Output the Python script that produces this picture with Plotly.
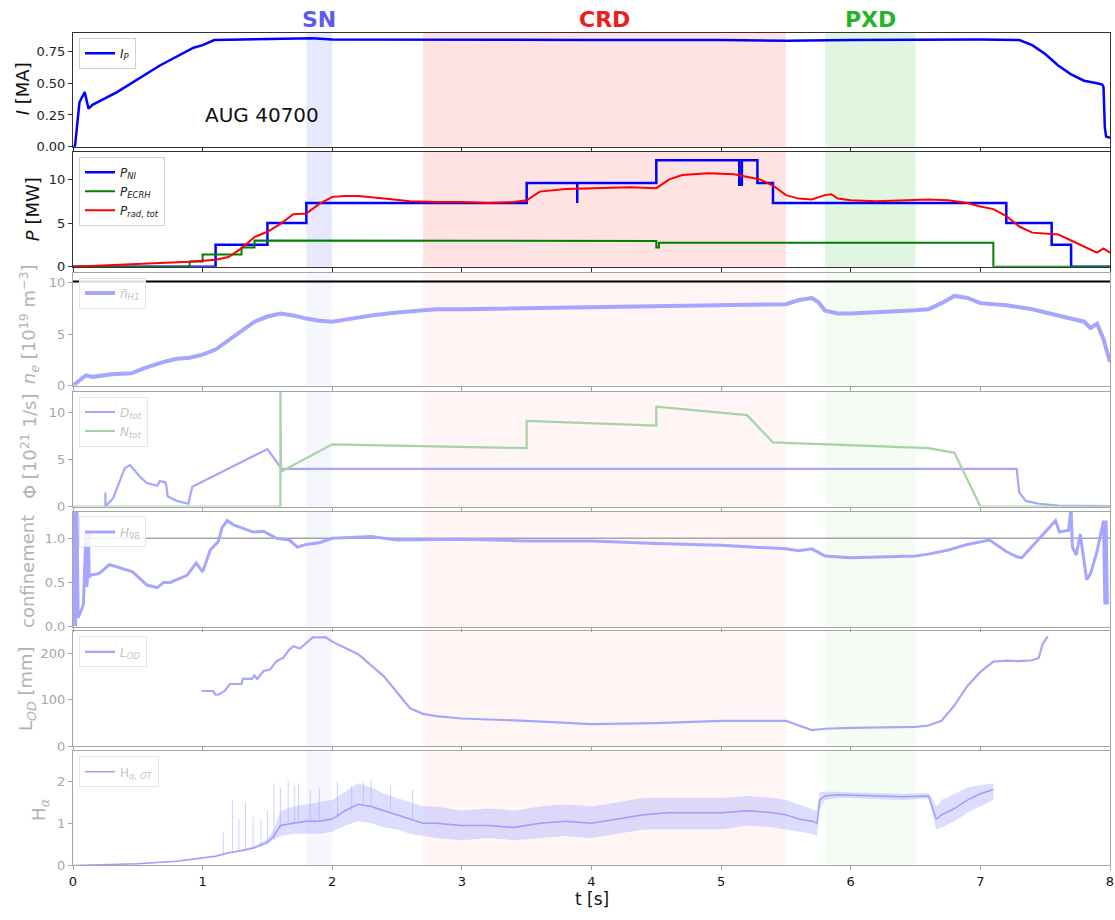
import plotly.graph_objects as go

# ---------------- data (AUG discharge 40700) ----------------
# Phases
PHASE_NAMES = ["SN", "CRD", "PXD"]
PHASE_START = [1.8, 2.7, 5.8]
PHASE_END = [2.0, 5.5, 6.5]

# Plasma current [MA]
t_ip = [0, 0.015, 0.05, 0.09, 0.12, 0.15, 0.34, 0.67, 0.93, 1.0, 1.09, 1.5, 1.8, 1.85, 2.0, 3.0,
        4.0, 5.0, 5.5, 6.0, 7.0, 7.3, 7.4, 7.5, 7.6, 7.7, 7.8, 7.9, 7.94, 7.95, 7.96, 7.97, 8.0]
ip = [0, 0, 0.35, 0.43, 0.30, 0.33, 0.43, 0.64, 0.78, 0.80, 0.84, 0.845, 0.85, 0.855, 0.845, 0.84,
      0.84, 0.84, 0.835, 0.84, 0.845, 0.84, 0.80, 0.73, 0.64, 0.57, 0.52, 0.50, 0.49, 0.47, 0.15, 0.08, 0.07]

# Heating / radiated power [MW]
t_nbi = [0, 1.1, 1.1, 1.5, 1.5, 1.8, 1.8, 3.5, 3.5, 3.89, 3.89, 3.89, 3.89, 4.5, 4.5, 5.14, 5.14,
         5.16, 5.16, 5.28, 5.28, 5.4, 5.4, 7.2, 7.2, 7.55, 7.55, 7.7, 7.7, 8.0]
p_nbi = [0, 0, 2.5, 2.5, 5.0, 5.0, 7.3, 7.3, 9.6, 9.6, 7.3, 7.3, 9.6, 9.6, 12.2, 12.2, 9.4,
         9.4, 12.2, 12.2, 9.6, 9.6, 7.3, 7.3, 5.0, 5.0, 2.5, 2.5, 0, 0]
t_ecrh = [0, 0.9, 0.9, 1.0, 1.0, 1.3, 1.3, 1.4, 1.4, 4.5, 4.5, 4.52, 4.52, 7.1, 7.1, 8.0]
p_ecrh = [0, 0, 0.6, 0.6, 1.4, 1.4, 2.2, 2.2, 3.0, 2.95, 2.2, 2.2, 2.75, 2.75, 0, 0]
t_rad = [0, 0.3, 0.6, 0.9, 1.1, 1.2, 1.3, 1.4, 1.5, 1.6, 1.7, 1.8, 1.9, 2.0, 2.1, 2.2, 2.4, 2.6,
         2.8, 3.0, 3.2, 3.4, 3.5, 3.6, 3.8, 4.0, 4.3, 4.5, 4.6, 4.7, 4.9, 5.1, 5.2, 5.3, 5.4, 5.5,
         5.6, 5.7, 5.8, 5.85, 5.9, 6.0, 6.2, 6.4, 6.6, 6.75, 6.9, 7.0, 7.1, 7.2, 7.3, 7.4, 7.5,
         7.6, 7.7, 7.8, 7.9, 7.95, 8.0]
p_rad = [0, 0.2, 0.35, 0.55, 0.8, 1.1, 2.1, 3.4, 4.0, 4.9, 6.0, 6.1, 7.2, 8.0, 8.1, 8.1, 7.8, 7.5,
         7.4, 7.4, 7.3, 7.4, 7.6, 8.6, 8.9, 9.0, 9.1, 9.0, 10.0, 10.5, 10.7, 10.6, 10.3, 10.0, 9.3, 8.2,
         7.8, 7.7, 8.2, 8.3, 7.8, 7.6, 7.5, 7.6, 7.7, 7.6, 7.3, 6.9, 6.6, 5.8, 4.6, 3.9, 3.8,
         3.7, 3.0, 2.3, 1.6, 2.1, 1.6]

# Line-averaged density [1e19 m^-3]
t_ne = [0, 0.05, 0.1, 0.15, 0.3, 0.45, 0.55, 0.7, 0.8, 0.9, 1.0, 1.1, 1.2, 1.3, 1.4, 1.5, 1.6, 1.7,
        1.8, 1.9, 2.0, 2.1, 2.3, 2.5, 2.8, 3.0, 3.5, 4.0, 4.5, 5.0, 5.5, 5.6, 5.7, 5.75, 5.8, 5.9,
        6.0, 6.5, 6.6, 6.7, 6.8, 6.9, 7.0, 7.2, 7.4, 7.6, 7.8, 7.85, 7.9, 7.95, 8.0]
ne = [0, 0.5, 1.0, 0.85, 1.1, 1.2, 1.7, 2.3, 2.6, 2.7, 3.0, 3.5, 4.4, 5.4, 6.2, 6.7, 7.0, 6.8,
      6.5, 6.3, 6.2, 6.4, 6.8, 7.1, 7.4, 7.4, 7.5, 7.6, 7.7, 7.8, 7.9, 8.3, 8.5, 8.1, 7.3, 7.0,
      7.0, 7.3, 7.4, 8.0, 8.7, 8.5, 8.0, 7.8, 7.4, 6.8, 6.2, 5.6, 6.0, 4.5, 2.3]
NE_REF = 10.1

# Particle fluxes [1e21 1/s]
t_d = [0.25, 0.25, 0.31, 0.4, 0.44, 0.52, 0.57, 0.65, 0.67, 0.71, 0.72, 0.73, 0.8, 0.89, 0.92,
       1.5, 1.61, 1.65, 7.28, 7.3, 7.35, 7.45, 7.6, 8.0]
d_tot = [1.5, 0.0, 0.9, 4.1, 4.4, 3.1, 2.5, 2.2, 2.7, 2.6, 2.2, 1.1, 0.6, 0.3, 2.1,
         6.1, 4.0, 4.0, 4.0, 1.5, 0.6, 0.3, 0.1, 0.05]
t_n = [0, 1.6, 1.6, 1.605, 2.0, 3.5, 3.5, 4.5, 4.5, 5.2, 5.4, 6.6, 6.8, 7.0, 8.0]
n_tot = [0, 0, 12.5, 3.7, 6.6, 6.2, 9.1, 8.6, 10.6, 9.7, 6.8, 6.2, 5.7, 0, 0]

# Confinement factor H98
t_h98 = [0, 0.005, 0.01, 0.02, 0.03, 0.04, 0.05, 0.08, 0.1, 0.105, 0.11, 0.12, 0.125, 0.13, 0.2,
         0.28, 0.33, 0.46, 0.57, 0.65, 0.7, 0.75, 0.88, 0.95, 1.0, 1.06, 1.12, 1.15, 1.19, 1.24,
         1.39, 1.47, 1.57, 1.67, 1.73, 1.8, 1.9, 2.0, 2.3, 2.5, 3.0, 3.5, 4.0, 4.5, 5.0, 5.5, 5.6,
         5.7, 5.8, 6.0, 6.5, 6.6, 6.76, 6.9, 7.07, 7.2, 7.28, 7.32, 7.53, 7.58, 7.61, 7.68, 7.7,
         7.71, 7.74, 7.77, 7.82, 7.85, 7.9, 7.94, 7.95, 7.96, 7.97, 7.98]
h98 = [1.35, 0, 1.35, 0, 1.35, 0.1, 0.13, 0.25, 1.05, 0.45, 0.5, 1.05, 0.55, 0.58, 0.6,
       0.7, 0.68, 0.62, 0.47, 0.44, 0.5, 0.5, 0.58, 0.72, 0.62, 0.87, 0.96, 1.12, 1.2, 1.15,
       1.07, 1.08, 1.0, 0.98, 0.9, 0.93, 0.95, 1.0, 1.02, 0.98, 0.99, 0.97, 0.97, 0.94, 0.92, 0.88, 0.86,
       0.88, 0.8, 0.78, 0.8, 0.82, 0.87, 0.93, 0.98, 0.85, 0.79, 0.78, 1.12, 1.2, 1.07, 1.09, 1.35,
       0.9, 0.81, 1.05, 0.53, 0.6, 0.85, 1.1, 1.2, 0.25, 1.2, 0.25]
H98_REF = 1.0

# Outer divertor leg length [mm]
t_lod = [0.99, 1.08, 1.1, 1.12, 1.17, 1.21, 1.3, 1.31, 1.38, 1.4, 1.42, 1.47, 1.52, 1.57, 1.62,
         1.67, 1.7, 1.75, 1.85, 1.95, 2.0, 2.2, 2.4, 2.5, 2.6, 2.7, 2.8, 3.0, 3.5, 4.0, 4.5, 5.0,
         5.5, 5.6, 5.7, 5.8, 6.0, 6.5, 6.6, 6.7, 6.8, 6.9, 7.0, 7.1, 7.2, 7.3, 7.4, 7.45, 7.48, 7.52]
lod = [119, 119, 111, 111, 119, 134, 134, 145, 145, 152, 145, 162, 165, 183, 190,
       208, 215, 210, 234, 234, 225, 198, 150, 115, 82, 70, 65, 60, 55, 48, 50, 55,
       55, 45, 35, 38, 40, 42, 45, 55, 88, 130, 160, 182, 184, 183, 185, 190, 220, 236]

# H-alpha (outer target): centre and min/max envelope, plus ELM spikes
t_ha = [0, 0.5, 0.8, 1.0, 1.1, 1.2, 1.3, 1.4, 1.5, 1.55, 1.6, 1.7, 1.8, 1.9, 2.0, 2.1, 2.2, 2.3,
        2.4, 2.5, 2.6, 2.7, 2.8, 3.0, 3.2, 3.4, 3.6, 3.8, 4.0, 4.2, 4.4, 4.6, 4.8, 5.0, 5.2, 5.4,
        5.5, 5.6, 5.7, 5.74, 5.76, 5.8, 5.9, 6.0, 6.2, 6.4, 6.6, 6.63, 6.66, 6.7, 6.8, 6.9, 7.0, 7.1]
ha_mid = [0, 0.04, 0.1, 0.17, 0.22, 0.3, 0.35, 0.42, 0.55, 0.7, 0.95, 1.0, 1.05, 1.05, 1.1, 1.3,
          1.45, 1.4, 1.3, 1.2, 1.1, 1.0, 1.0, 0.95, 0.95, 0.9, 1.0, 1.05, 1.0, 1.1, 1.2, 1.25, 1.25,
          1.25, 1.3, 1.25, 1.2, 1.1, 1.05, 1.0, 1.55, 1.65, 1.68, 1.67, 1.65, 1.63, 1.65, 1.4, 1.1,
          1.2, 1.35, 1.55, 1.7, 1.8]
ha_lo = [0, 0.03, 0.09, 0.16, 0.2, 0.28, 0.33, 0.4, 0.5, 0.62, 0.7, 0.75, 0.75, 0.75, 0.8, 0.95,
         1.05, 1.0, 0.9, 0.85, 0.75, 0.7, 0.65, 0.6, 0.65, 0.6, 0.65, 0.7, 0.65, 0.75, 0.85, 0.85,
         0.85, 0.85, 0.95, 0.9, 0.85, 0.8, 0.75, 0.7, 1.3, 1.55, 1.6, 1.6, 1.58, 1.55, 1.58, 1.2,
         0.85, 0.9, 1.05, 1.25, 1.4, 1.55]
ha_hi = [0, 0.05, 0.11, 0.19, 0.24, 0.32, 0.38, 0.46, 0.62, 0.85, 1.3, 1.4, 1.45, 1.5, 1.55, 1.75,
         1.95, 1.85, 1.7, 1.6, 1.5, 1.4, 1.4, 1.3, 1.35, 1.3, 1.4, 1.45, 1.4, 1.5, 1.6, 1.6, 1.6,
         1.6, 1.65, 1.6, 1.55, 1.45, 1.35, 1.3, 1.75, 1.75, 1.75, 1.73, 1.72, 1.7, 1.72, 1.6, 1.4,
         1.55, 1.7, 1.85, 1.9, 1.95]
ha_spike_t = [1.16, 1.23, 1.28, 1.33, 1.39, 1.45, 1.50, 1.55, 1.60, 1.66, 1.71, 1.74, 1.83, 1.90,
              2.04, 2.15, 2.24, 2.30, 2.45, 2.62]
ha_spike_base = [0.22, 0.3, 0.33, 0.35, 0.4, 0.45, 0.5, 0.6, 0.9, 1.0, 1.0, 1.0, 1.05, 1.05,
                 1.1, 1.3, 1.45, 1.4, 1.3, 1.1]
ha_spike_top = [0.78, 1.55, 1.1, 1.5, 1.15, 1.1, 1.3, 1.95, 1.85, 2.0, 1.9, 1.95, 1.8, 1.85,
                2.0, 1.9, 2.0, 2.05, 1.9, 1.8]

X_TICKS = [0, 1, 2, 3, 4, 5, 6, 7, 8]
Y_TICKS = [[0, 0.25, 0.5, 0.75], [0, 5, 10], [0, 5, 10], [0, 5, 10], [0, 0.5, 1.0], [0, 100, 200], [0, 1, 2]]
Y_TICKTEXT = [["0.00", "0.25", "0.50", "0.75"], ["0", "5", "10"], ["0", "5", "10"], ["0", "5", "10"],
              ["0.0", "0.5", "1.0"], ["0", "100", "200"], ["0", "1", "2"]]
Y_MAX = [0.898, 13.18, 10.96, 12.2, 1.303, 246.8, 2.706]
Y_LABELS = ["<i>I</i> [MA]", "<i>P</i> [MW]", "<i>n<sub>e</sub></i> [10<sup>19</sup> m<sup>−3</sup>]",
            "Φ [10<sup>21</sup> 1/s]", "confinement", "L<sub><i>OD</i></sub> [mm]", "H<sub><i>α</i></sub>"]

# ---------------- layout geometry ----------------
W, H = 1115, 920
LEFT, RIGHT = 73, 1110
PW = RIGHT - LEFT
PANEL_PX = [(33, 148), (153, 269), (275, 389), (395, 511), (516, 632), (637, 753), (758, 873)]
YLAB_PX = [(22, 90), (32, 211), (29, 327), (29, 450), (28, 577), (27, 695), (40, 817)]
FONT = "DejaVu Sans"

def px_x(px):
    return (px - LEFT) / PW

def px_y(py):
    return 1 - py / H

def fade(rgb, a=0.65):
    r, g, b = rgb
    return "rgb(%d,%d,%d)" % tuple(round(c * (1 - a) + 255 * a) for c in (r, g, b))

BLUE, GREEN, RED = (0, 0, 255), (0, 128, 0), (255, 0, 0)
FBLUE, FGREEN = fade(BLUE), fade(GREEN)
FADED_GREY = fade((0, 0, 0))

fig = go.Figure()

def ax(k):
    return ("x" if k == 1 else "x%d" % k), ("y" if k == 1 else "y%d" % k)

def leg(k):
    return "legend" if k == 1 else "legend%d" % k

def add_line(k, x, y, name, color, width, show=True):
    xa, ya = ax(k)
    fig.add_trace(go.Scatter(x=x, y=y, mode="lines", name=name, xaxis=xa, yaxis=ya,
                             line=dict(color=color, width=width), legend=leg(k), showlegend=show))

# panel 1
add_line(1, t_ip, ip, "<i>I<sub>P</sub></i>", "rgb(0,0,255)", 2.5)
# panel 2
add_line(2, t_nbi, p_nbi, "<i>P<sub>NI</sub></i>", "rgb(0,0,255)", 2.5)
add_line(2, t_ecrh, p_ecrh, "<i>P<sub>ECRH</sub></i>", "rgb(0,128,0)", 2)
add_line(2, t_rad, p_rad, "<i>P<sub>rad, tot</sub></i>", "rgb(255,0,0)", 2)
# panel 3
add_line(3, t_ne, ne, "<i>n̄<sub>H1</sub></i>", FBLUE, 4)
# panel 4
add_line(4, t_d, d_tot, "<i>D<sub>tot</sub></i>", FBLUE, 2.2)
add_line(4, t_n, n_tot, "<i>N<sub>tot</sub></i>", FGREEN, 2.2)
# panel 5
add_line(5, t_h98, h98, "<i>H</i><sub>98</sub>", FBLUE, 3)
# panel 6
add_line(6, t_lod, lod, "<i>L<sub>OD</sub></i>", FBLUE, 2.2)
# panel 7: envelope band, spikes, centre line
xa7, ya7 = ax(7)
fig.add_trace(go.Scatter(x=t_ha, y=ha_lo, mode="lines", line=dict(width=0, color=FBLUE),
                         xaxis=xa7, yaxis=ya7, showlegend=False, hoverinfo="skip"))
fig.add_trace(go.Scatter(x=t_ha, y=ha_hi, mode="lines", line=dict(width=0, color=FBLUE),
                         fill="tonexty", fillcolor="rgba(170,170,255,0.4)",
                         xaxis=xa7, yaxis=ya7, showlegend=False, hoverinfo="skip"))
sx, sy = [], []
for t, b, top in zip(ha_spike_t, ha_spike_base, ha_spike_top):
    sx += [t, t, None]
    sy += [b, top, None]
fig.add_trace(go.Scatter(x=sx, y=sy, mode="lines", line=dict(width=0.8, color="rgba(170,170,255,0.7)"),
                         xaxis=xa7, yaxis=ya7, showlegend=False, hoverinfo="skip"))
add_line(7, t_ha, ha_mid, "H<sub><i>α, OT</i></sub>", "rgba(150,150,255,0.9)", 1.5)

# ---------------- axes ----------------
layout = dict(width=W, height=H, margin=dict(l=LEFT, r=W - RIGHT, t=0, b=0),
              paper_bgcolor="white", plot_bgcolor="white",
              font=dict(family=FONT, size=13, color="#222"), showlegend=True)
shapes, annotations = [], []
phase_top = ["rgba(0,0,255,0.09)", "rgba(255,0,0,0.11)", "rgba(0,180,0,0.12)"]
phase_low = ["rgba(0,0,255,0.035)", "rgba(255,0,0,0.04)", "rgba(0,180,0,0.045)"]

for k in range(1, 8):
    top, bot = PANEL_PX[k - 1]
    faded = k >= 3
    fg = FADED_GREY if faded else "#333"
    tickc = FADED_GREY if faded else "#222"
    xa, ya = ax(k)
    xname = "xaxis" if k == 1 else "xaxis%d" % k
    yname = "yaxis" if k == 1 else "yaxis%d" % k
    layout[xname] = dict(domain=[0, 1], range=[0, 8], anchor=ya, showgrid=False, zeroline=False,
                         showline=True, mirror=True, linecolor=fg, linewidth=1,
                         ticks="outside", ticklen=4, tickcolor=fg, tickvals=X_TICKS,
                         showticklabels=(k == 7), tickfont=dict(size=13, color="#111"))
    if k > 1:
        layout[xname]["matches"] = "x"
    layout[yname] = dict(domain=[px_y(bot), px_y(top)], range=[0, Y_MAX[k - 1]], anchor=xa,
                         showgrid=False, zeroline=False, showline=True, mirror=True,
                         linecolor=fg, linewidth=1, ticks="outside", ticklen=4, tickcolor=fg,
                         tickvals=Y_TICKS[k - 1], ticktext=Y_TICKTEXT[k - 1],
                         tickfont=dict(size=13, color=tickc))
    layout[leg(k)] = dict(x=px_x(LEFT + 6), y=px_y(top + 5), xanchor="left", yanchor="top",
                          bgcolor="rgba(255,255,255,0.85)",
                          bordercolor="#e6e6e6" if faded else "#d0d0d0", borderwidth=1,
                          font=dict(size=12, color="#c4c4c4" if faded else "#222"),
                          tracegroupgap=0, itemwidth=30)
    # phase shading
    for i in range(3):
        shapes.append(dict(type="rect", xref=xa, yref="%s domain" % ya, x0=PHASE_START[i],
                           x1=PHASE_END[i], y0=0, y1=1, line=dict(width=0), layer="below",
                           fillcolor=(phase_low if faded else phase_top)[i]))
    # y-axis label
    lx, ly = YLAB_PX[k - 1]
    annotations.append(dict(text=Y_LABELS[k - 1], xref="paper", yref="paper", x=px_x(lx), y=px_y(ly),
                            xanchor="center", yanchor="middle", textangle=-90, showarrow=False,
                            font=dict(size=18, color="#b3b3b3" if faded else "#111")))

# reference lines
shapes.append(dict(type="line", xref="x3", yref="y3", x0=0, x1=8, y0=NE_REF, y1=NE_REF,
                   line=dict(color="black", width=2.2)))
shapes.append(dict(type="line", xref="x5", yref="y5", x0=0, x1=8, y0=H98_REF, y1=H98_REF,
                   line=dict(color=FADED_GREY, width=1.5), layer="below"))

# phase labels
phase_txt_col = ["#5b5bf2", "#ee1c1c", "#25b425"]
for i, name in enumerate(PHASE_NAMES):
    annotations.append(dict(text="<b>%s</b>" % name, xref="x", yref="paper",
                            x=(PHASE_START[i] + PHASE_END[i]) / 2, y=px_y(20),
                            xanchor="center", yanchor="middle", showarrow=False,
                            font=dict(size=22, color=phase_txt_col[i])))

annotations.append(dict(text="AUG 40700", xref="x", yref="y", x=1.46, y=0.25, xanchor="center",
                        yanchor="middle", showarrow=False, font=dict(size=20, color="#111")))
annotations.append(dict(text="t [s]", xref="paper", yref="paper", x=0.5, y=px_y(918),
                        xanchor="center", yanchor="bottom", showarrow=False, borderpad=0,
                        font=dict(size=17, color="#111")))

layout["shapes"] = shapes
layout["annotations"] = annotations
fig.update_layout(**layout)

fig.write_html("out.html")
